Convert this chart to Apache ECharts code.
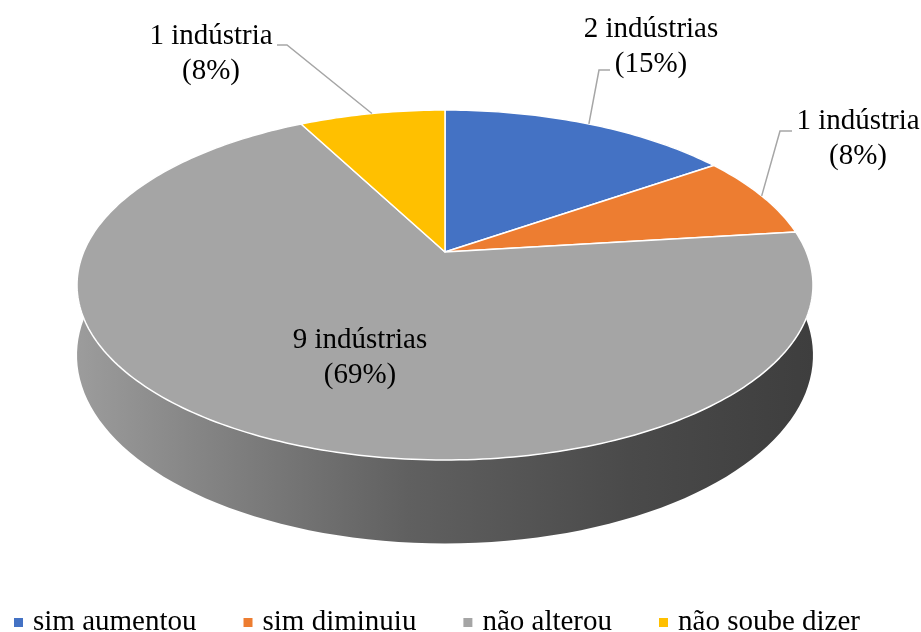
<!DOCTYPE html>
<html>
<head>
<meta charset="utf-8">
<script src="https://cdn.jsdelivr.net/npm/echarts@6/dist/echarts.min.js"></script>
<style>
  html, body { margin: 0; padding: 0; background: #fff; }
  #chart { width: 921px; height: 632px; }
</style>
</head>
<body>
<div id="chart"></div>
<script>
// dados
var categorias = ['sim aumentou', 'sim diminuiu', 'não alterou', 'não soube dizer'];
var industrias = [2, 1, 9, 1];
var cores = ['#4472c4', '#ed7d31', '#a5a5a5', '#ffc000'];

// posição dos rótulos (centro do texto) e cotovelo da linha guia
var rotuloPos = [[651, 47], [858, 139], [360, 358], [211, 54]];
var rotuloCotovelo = [[[599, 70], [610, 70]], [[780, 131], [792, 131]], null, [[287, 45], [277, 45]]];

// "câmera" da pizza 3D
var cam = { cx: 445, cy: 252, F: 1693, D: 4.685, sa: 0.467, ca: 0.884, h: 0.212 };

var total = industrias.reduce(function (a, b) { return a + b; }, 0);
var FONTE = '"Times New Roman", "Liberation Serif", "DejaVu Serif", serif';

function proj(theta, r) {
    var u = r * Math.sin(theta);
    var z = -r * Math.cos(theta);
    var depth = cam.D - z * cam.ca;
    return [cam.cx + cam.F * u / depth, cam.cy + cam.F * z * cam.sa / depth];
}

// ponto da borda inferior: mesmo x, deslocado para baixo
function projBase(theta) {
    var p = proj(theta, 1);
    var depth = cam.D + Math.cos(theta) * cam.ca;
    return [p[0], p[1] + cam.F * cam.h * cam.ca / depth];
}

function anguloInicio(i) {
    var s = 0;
    for (var k = 0; k < i; k++) s += industrias[k];
    return s / total * Math.PI * 2;
}

// parede lateral
function desenhaParede(params, api) {
    var pts = [];
    var a0 = 40 / 180 * Math.PI, a1 = 320 / 180 * Math.PI;
    var n = 140;
    for (var i = 0; i <= n; i++) pts.push(proj(a0 + (a1 - a0) * i / n, 1));
    for (var j = n; j >= 0; j--) pts.push(projBase(a0 + (a1 - a0) * j / n));
    return {
        type: 'polygon',
        shape: { points: pts },
        style: {
            fill: new echarts.graphic.LinearGradient(0, 0, 1, 0, [
                { offset: 0, color: '#9c9c9c' },
                { offset: 0.15, color: '#878787' },
                { offset: 0.45, color: '#606060' },
                { offset: 0.75, color: '#4a4a4a' },
                { offset: 1, color: '#3e3e3e' }
            ]),
            stroke: null
        }
    };
}

function fatia(idx) {
    return function (params, api) {
        var v = api.value(0);
        var a0 = anguloInicio(idx);
        var a1 = a0 + v / total * Math.PI * 2;
        var pts = [proj(0, 0)];
        var n = Math.max(8, Math.round((a1 - a0) / Math.PI * 180));
        for (var i = 0; i <= n; i++) pts.push(proj(a0 + (a1 - a0) * i / n, 1));
        var filhos = [{
            type: 'polygon',
            shape: { points: pts },
            style: { fill: cores[idx], stroke: '#fff', lineWidth: 1.5, lineJoin: 'round' }
        }];
        var pct = Math.round(v / total * 100);
        filhos.push({
            type: 'text',
            z2: 10,
            style: {
                text: v + (v > 1 ? ' indústrias' : ' indústria') + '\n(' + pct + '%)',
                x: rotuloPos[idx][0],
                y: rotuloPos[idx][1],
                align: 'center',
                verticalAlign: 'middle',
                font: '29px ' + FONTE,
                lineHeight: 35,
                fill: '#000'
            }
        });
        if (rotuloCotovelo[idx]) {
            var meio = (a0 + a1) / 2;
            filhos.push({
                type: 'polyline',
                z2: 5,
                shape: { points: [proj(meio, 1)].concat(rotuloCotovelo[idx]) },
                style: { stroke: '#a6a6a6', lineWidth: 1.5, fill: null }
            });
        }
        return { type: 'group', children: filhos };
    };
}

var series = [{
    type: 'custom',
    name: '_parede',
    coordinateSystem: 'none',
    renderItem: desenhaParede,
    data: [[0]],
    silent: true
}];
categorias.forEach(function (nome, i) {
    series.push({
        type: 'custom',
        name: nome,
        coordinateSystem: 'none',
        renderItem: fatia(i),
        itemStyle: { color: cores[i] },
        data: [[industrias[i]]],
        silent: true
    });
});

var chart = echarts.init(document.getElementById('chart'), null, { renderer: 'canvas' });
chart.setOption({
    animation: false,
    color: cores,
    legend: {
        data: categorias,
        left: 9,
        top: 603,
        icon: 'rect',
        itemWidth: 9,
        itemHeight: 9,
        itemGap: 47,
        selectedMode: false,
        textStyle: { fontSize: 29, fontFamily: FONTE, color: '#000', padding: [0, 0, 0, 5] }
    },
    series: series
});
</script>
</body>
</html>
